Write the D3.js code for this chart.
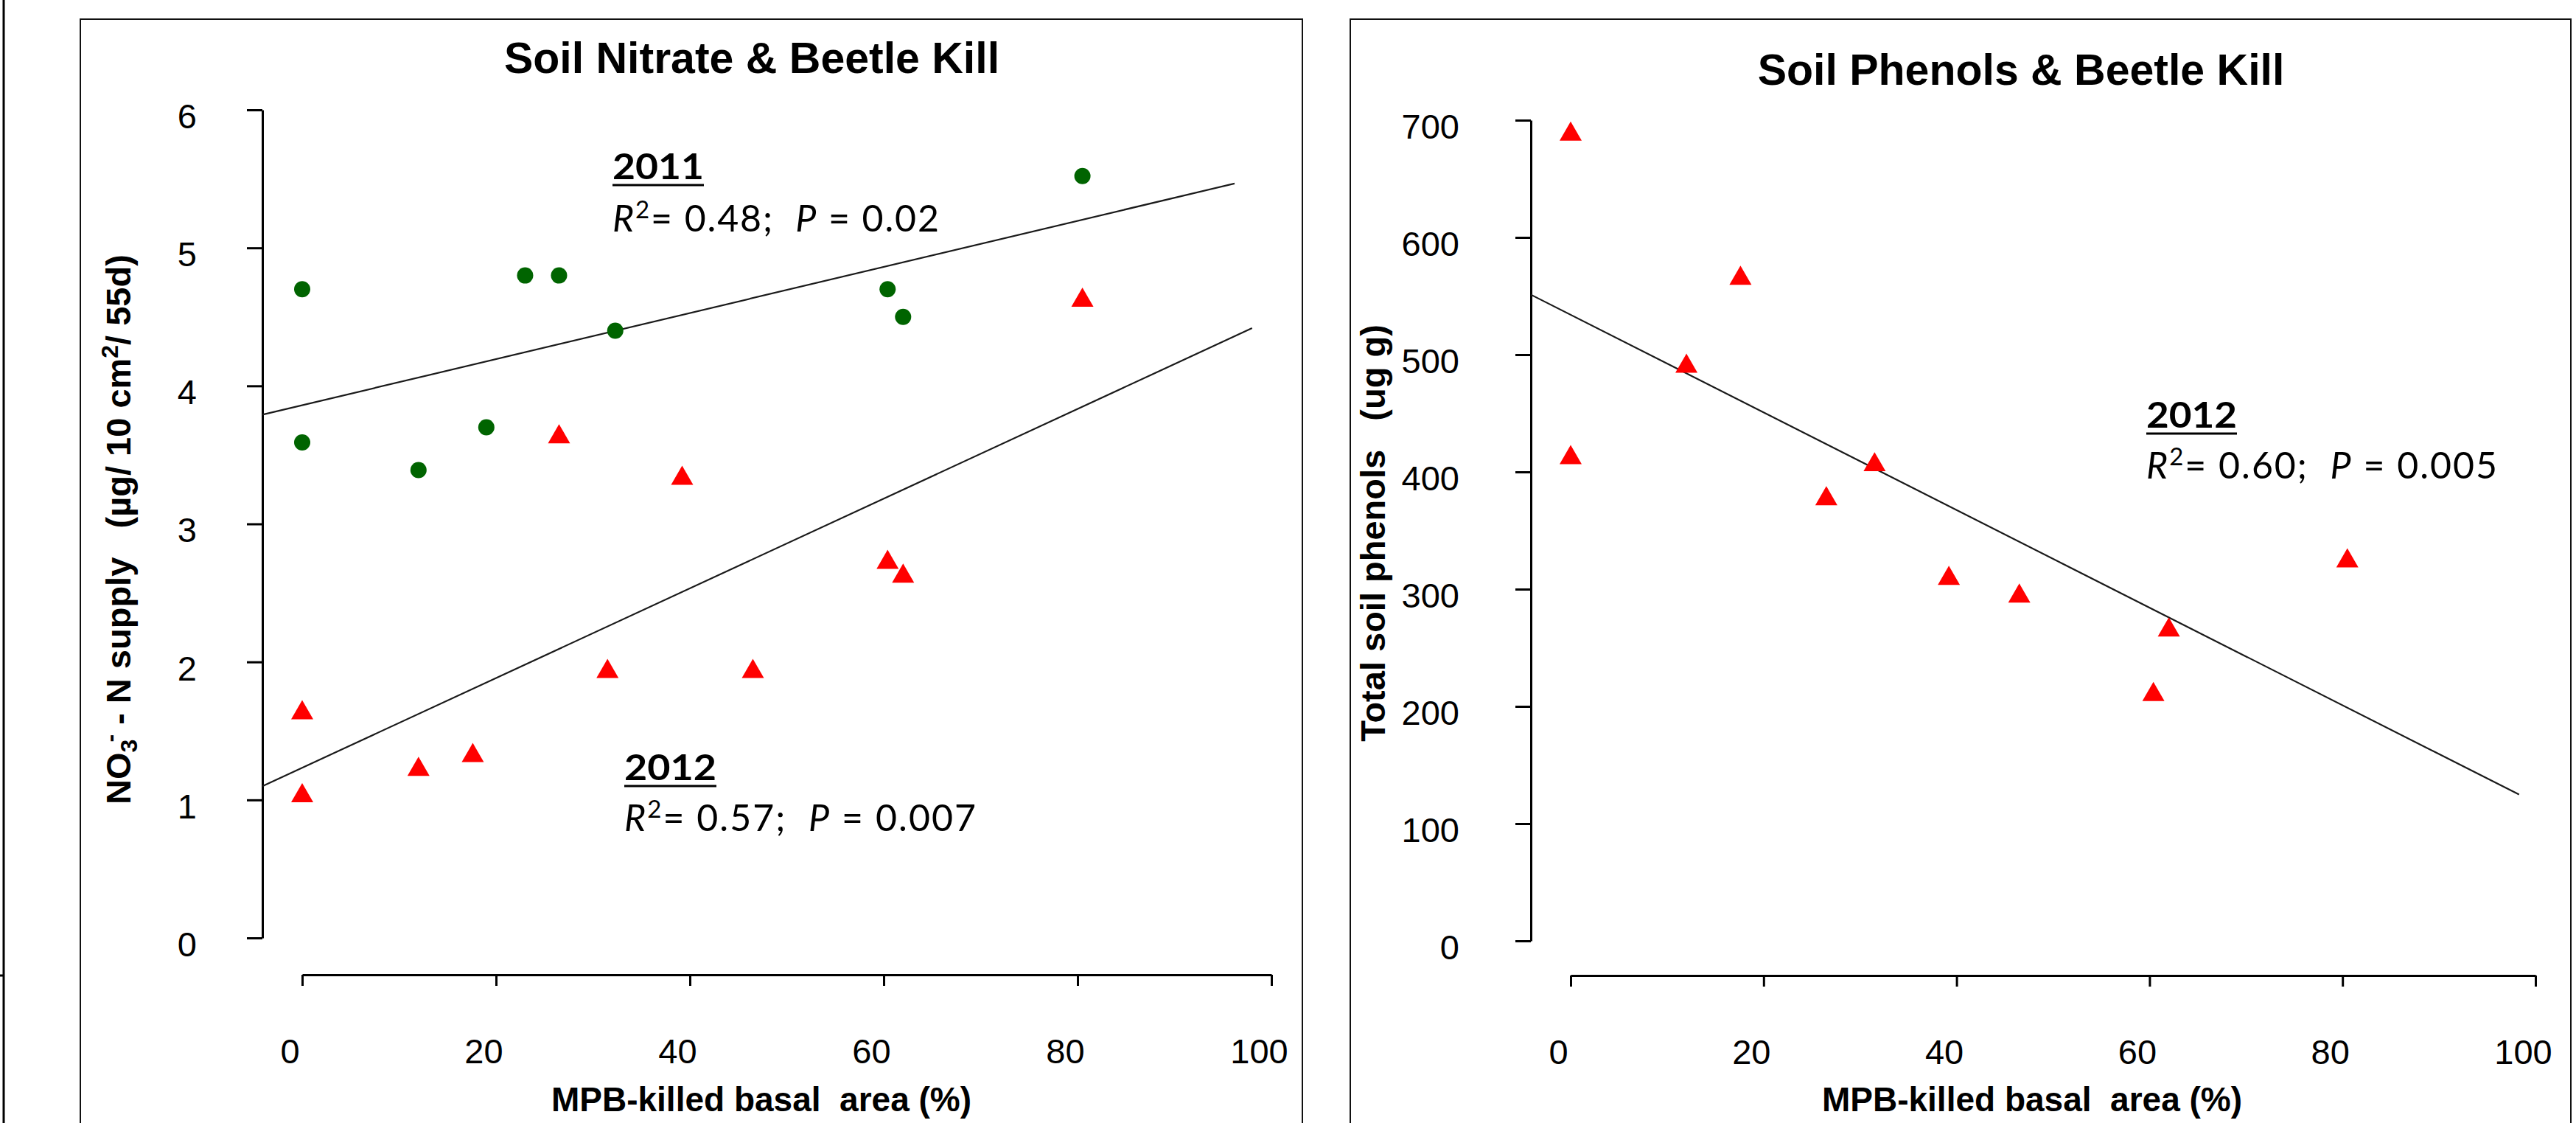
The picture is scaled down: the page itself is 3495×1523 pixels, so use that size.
<!DOCTYPE html>
<html><head><meta charset="utf-8">
<script src="https://cdn.jsdelivr.net/npm/d3@7"></script>
<style>body{margin:0;background:#fff} svg{display:block}</style>
</head><body>
<script>
// ---------------- data ----------------
const killedPct2011 = [0, 0, 12, 19, 23, 26.5, 32.3, 60.4, 62, 80.5];
const nitrate2011   = [4.70, 3.59, 3.39, 3.70, 4.80, 4.80, 4.40, 4.70, 4.50, 5.52];
const killedPct2012 = [0, 0, 12, 17.6, 26.5, 31.5, 39.2, 46.5, 60.4, 62, 80.5];
const nitrate2012   = [1.63, 1.03, 1.22, 1.32, 3.63, 1.93, 3.33, 1.93, 2.72, 2.62, 4.62];
const phenols2012   = [688, 412, 490, 565, 377, 406, 309, 294, 210, 265, 324];

const xTicks       = [0, 20, 40, 60, 80, 100];
const nitrateTicks = [0, 1, 2, 3, 4, 5, 6];
const phenolTicks  = [0, 100, 200, 300, 400, 500, 600, 700];

// fitted lines as drawn: [intercept, slope, last x]
const fitNitrate2011 = [3.86, 0.0167, 96.2];
const fitNitrate2012 = [1.233, 0.0325, 98];
const fitPhenols2012 = [534, -4.163, 98.3];

const titles = ["Soil Nitrate & Beetle Kill", "Soil Phenols & Beetle Kill"];
const xLabel = "MPB-killed basal  area (%)";

// ---------------- drawing ----------------
const W = 3495, H = 1523;
const svg = d3.select("body").append("svg").attr("width", W).attr("height", H);
svg.append("rect").attr("width", W).attr("height", H).attr("fill", "#fff");

const ARIAL = "'Liberation Sans', Arial, sans-serif";
const CALIBRI = "Lato, 'Open Sans', sans-serif";

// stray edge line at the far left
svg.append("line").attr("x1", 5).attr("x2", 5).attr("y1", 0).attr("y2", H)
   .attr("stroke", "#000").attr("stroke-width", 3);
svg.append("line").attr("x1", 0).attr("x2", 6).attr("y1", 1323).attr("y2", 1323)
   .attr("stroke", "#000").attr("stroke-width", 3);

function frame(x1, x2, y1) {
  svg.append("path").attr("d", `M${x1},${H + 2}V${y1}H${x2}V${H + 2}`)
     .attr("fill", "none").attr("stroke", "#111").attr("stroke-width", 2);
}
frame(109, 1767, 26);
frame(1832, 3488, 26);

function panel(cfg) {
  const g = svg.append("g");
  const x = d3.scaleLinear().domain([0, 100]).range(cfg.xRange);
  const y = d3.scaleLinear().domain(cfg.yDomain).range(cfg.yRange);

  // y axis
  const ya = g.append("g").attr("transform", `translate(${cfg.yAxisX},0)`)
    .call(d3.axisLeft(y).tickValues(cfg.yTicks).tickFormat(d3.format("d"))
      .tickSize(21).tickSizeOuter(0)
      .tickPadding(cfg.yAxisX - cfg.labelRight - 21));
  ya.selectAll("path,line").attr("stroke", "#000").attr("stroke-width", 3);
  ya.selectAll("text").attr("dy", "0.52em").attr("fill", "#000")
    .attr("font-family", ARIAL).attr("font-size", 47);
  ya.attr("font-family", null).attr("font-size", null);

  // x axis
  const xa = g.append("g").attr("transform", `translate(0,${cfg.xAxisY})`)
    .call(d3.axisBottom(x).tickValues(xTicks).tickFormat(d3.format("d"))
      .tickSize(15).tickSizeOuter(0));
  xa.selectAll("path,line").attr("stroke", "#000").attr("stroke-width", 3);
  xa.selectAll("text").attr("y", 120).attr("dy", null).attr("dx", -17).attr("fill", "#000")
    .attr("font-family", ARIAL).attr("font-size", 47);
  xa.attr("font-family", null).attr("font-size", null);

  // title
  g.append("text").attr("x", cfg.titleX).attr("y", cfg.titleY).attr("text-anchor", "middle")
    .attr("font-family", ARIAL).attr("font-weight", "bold").attr("font-size", 59)
    .text(cfg.title);

  // x label
  g.append("text").attr("x", cfg.xLabelX).attr("y", 1507).attr("text-anchor", "middle")
    .attr("font-family", ARIAL).attr("font-weight", "bold").attr("font-size", 46)
    .style("white-space", "pre").text(xLabel);

  // fitted lines
  const x0 = x.invert(cfg.yAxisX);
  cfg.fits.forEach(f => {
    const pts = [x0, f[2]].map(v => [x(v), y(f[0] + f[1] * v)]);
    g.append("path").attr("d", d3.line()(pts)).attr("fill", "none")
      .attr("stroke", "#1a1a1a").attr("stroke-width", 2.2);
  });

  // points
  cfg.series.forEach(s => {
    const data = s.xs.map((v, i) => [v, s.ys[i]]);
    if (s.shape === "circle") {
      g.append("g").selectAll("circle").data(data).join("circle")
        .attr("cx", d => x(d[0])).attr("cy", d => y(d[1])).attr("r", 11)
        .attr("fill", "#006400");
    } else {
      g.append("g").selectAll("path").data(data).join("path")
        .attr("d", d3.symbol(d3.symbolTriangle, 390))
        .attr("transform", d => `translate(${x(d[0])},${y(d[1])})`)
        .attr("fill", "#ff0000");
    }
  });
  return g;
}

panel({
  xRange: [410, 1725], yRange: [1272, 149], yDomain: [0, 6], yTicks: nitrateTicks,
  yAxisX: 356, xAxisY: 1322, labelRight: 267,
  title: titles[0], titleX: 1020, titleY: 99, xLabelX: 1033,
  fits: [fitNitrate2011, fitNitrate2012],
  series: [
    {xs: killedPct2011, ys: nitrate2011, shape: "circle"},
    {xs: killedPct2012, ys: nitrate2012, shape: "triangle"}
  ]
});
panel({
  xRange: [2131, 3440], yRange: [1276, 163], yDomain: [0, 700], yTicks: phenolTicks,
  yAxisX: 2077, xAxisY: 1323, labelRight: 1980,
  title: titles[1], titleX: 2742, titleY: 115, xLabelX: 2757,
  fits: [fitPhenols2012],
  series: [{xs: killedPct2012, ys: phenols2012, shape: "triangle"}]
});

// y labels
const yl1 = svg.append("text").attr("transform", "translate(177,718) rotate(-90)")
  .attr("text-anchor", "middle").attr("font-family", ARIAL).attr("font-weight", "bold")
  .attr("font-size", 47).style("white-space", "pre");
yl1.append("tspan").text("NO");
yl1.append("tspan").attr("font-size", 32).attr("dy", 9).text("3");
yl1.append("tspan").attr("font-size", 32).attr("dy", -26).attr("dx", -4).text("-");
yl1.append("tspan").attr("dy", 17).text(" - N supply   (µg/ 10 cm");
yl1.append("tspan").attr("font-size", 32).attr("dy", -17).text("2");
yl1.append("tspan").attr("dy", 17).text("/ 55d)");

svg.append("text").attr("transform", "translate(1879,723) rotate(-90)")
  .attr("text-anchor", "middle").attr("font-family", ARIAL).attr("font-weight", "bold")
  .attr("font-size", 47).style("white-space", "pre").text("Total soil phenols   (ug g)");

// annotations
function yearLabel(x, y, year, width) {
  svg.append("text").attr("x", x).attr("y", y).attr("font-family", CALIBRI)
    .attr("font-weight", "bold").attr("font-size", 48)
    .attr("textLength", width).attr("lengthAdjust", "spacingAndGlyphs").text(year);
  svg.append("line").attr("x1", x).attr("x2", x + width).attr("y1", y + 8).attr("y2", y + 8)
    .attr("stroke", "#000").attr("stroke-width", 3);
}
function statLabel(x, y, r2, p, width) {
  const t = svg.append("text").attr("x", x).attr("y", y).attr("font-family", CALIBRI)
    .attr("font-size", 50).attr("textLength", width).attr("lengthAdjust", "spacing")
    .style("white-space", "pre");
  t.append("tspan").attr("font-style", "italic").text("R");
  t.append("tspan").attr("font-size", 33).attr("dy", -18).text("2");
  t.append("tspan").attr("dy", 18).text("= " + r2 + ";  ");
  t.append("tspan").attr("font-style", "italic").text("P");
  t.append("tspan").text(" = " + p);
}
yearLabel(831, 243, "2011", 124);
statLabel(831, 314, "0.48", "0.02", 443);
yearLabel(847, 1058, "2012", 125);
statLabel(847, 1127, "0.57", "0.007", 477);
yearLabel(2912, 580, "2012", 123);
statLabel(2912, 649, "0.60", "0.005", 476);
</script>
</body></html>
